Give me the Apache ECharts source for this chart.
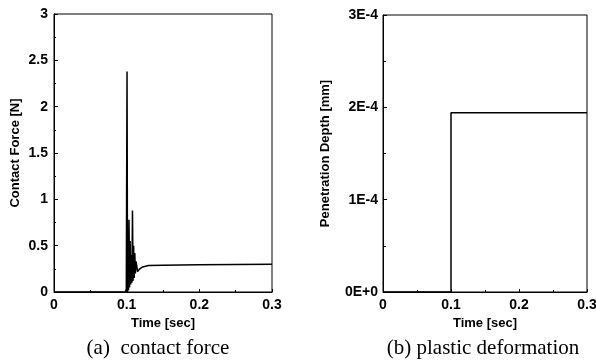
<!DOCTYPE html>
<html>
<head>
<meta charset="utf-8">
<script src="https://cdn.jsdelivr.net/npm/echarts@6/dist/echarts.min.js"></script>
<style>
  html, body { margin: 0; padding: 0; background: #fff; }
  #chart { width: 596px; height: 361px; }
</style>
</head>
<body>
<div id="chart"></div>
<script>
// (a) contact force
var forceTime = [0, 0.05, 0.098, 0.0995, 0.1005, 0.1012, 0.1018, 0.1025, 0.1032, 0.104, 0.1048, 0.1056, 0.1064,
  0.1072, 0.108, 0.1088, 0.1096, 0.1104, 0.1112, 0.112, 0.113, 0.115, 0.118, 0.122, 0.13, 0.15, 0.2, 0.3];
var forceValue = [0, 0, 0, 0.03, 2.38, 0.0, 0.6, 0.02, 0.78, 0.05, 0.55, 0.08, 0.4, 0.1,
  0.88, 0.12, 0.5, 0.15, 0.42, 0.2, 0.33, 0.22, 0.25, 0.27, 0.285, 0.29, 0.295, 0.3];

// (b) plastic deformation
var depthTime = [0, 0.1, 0.1, 0.3];
var depthValue = [0, 0, 1.94e-4, 1.94e-4];

var timeTicks = ['0', '0.1', '0.2', '0.3'];
var forceTicks = ['0', '0.5', '1', '1.5', '2', '2.5', '3'];
var depthTicks = ['0E+0', '1E-4', '2E-4', '3E-4'];

var tickFont = { color: '#000', fontFamily: 'Liberation Sans', fontWeight: 'bold', fontSize: 14 };
var nameFont = { color: '#000', fontFamily: 'Liberation Sans', fontWeight: 'bold', fontSize: 13 };

function pairs(xs, ys) {
  return xs.map(function (x, i) { return [x, ys[i]]; });
}

function xAxisFor(gridIndex) {
  return {
    type: 'value', gridIndex: gridIndex, min: 0, max: 0.3, interval: 0.1,
    name: 'Time [sec]', nameLocation: 'middle', nameGap: 25, nameTextStyle: nameFont,
    axisLine: { lineStyle: { color: '#000', width: 1 } },
    axisTick: { inside: true, length: 3, lineStyle: { color: '#000' } },
    minorTick: { show: true, splitNumber: 2, length: 2, lineStyle: { color: '#000' } },
    splitLine: { show: false },
    axisLabel: Object.assign({ margin: 6, formatter: function (v) { return timeTicks[Math.round(v * 10)]; } }, tickFont)
  };
}

var chart = echarts.init(document.getElementById('chart'));
chart.setOption({
  animation: false,
  backgroundColor: '#fff',
  grid: [
    { left: 54, top: 14, width: 218, height: 278, outerBoundsMode: 'none', show: true, borderColor: '#000', borderWidth: 1 },
    { left: 383, top: 15, width: 204, height: 277, outerBoundsMode: 'none', show: true, borderColor: '#000', borderWidth: 1 }
  ],
  xAxis: [xAxisFor(0), xAxisFor(1)],
  yAxis: [
    {
      type: 'value', gridIndex: 0, min: 0, max: 3, interval: 0.5,
      name: 'Contact Force [N]', nameLocation: 'middle', nameGap: 32, nameTextStyle: nameFont,
      axisLine: { show: true, lineStyle: { color: '#000', width: 1 } },
      axisTick: { show: true, inside: true, length: 4, lineStyle: { color: '#000' } },
      minorTick: { show: true, splitNumber: 2, length: 2, lineStyle: { color: '#000' } },
      splitLine: { show: false },
      axisLabel: Object.assign({ margin: 6, formatter: function (v) { return forceTicks[Math.round(v * 2)]; } }, tickFont)
    },
    {
      type: 'value', gridIndex: 1, min: 0, max: 3e-4, interval: 1e-4,
      name: 'Penetration Depth [mm]', nameLocation: 'middle', nameGap: 51, nameTextStyle: nameFont,
      axisLine: { show: true, lineStyle: { color: '#000', width: 1 } },
      axisTick: { show: true, inside: true, length: 4, lineStyle: { color: '#000' } },
      minorTick: { show: true, splitNumber: 2, length: 3, lineStyle: { color: '#000' } },
      splitLine: { show: false },
      axisLabel: Object.assign({ margin: 5, formatter: function (v) { return depthTicks[Math.round(v / 1e-4)]; } }, tickFont)
    }
  ],
  series: [
    {
      type: 'line', xAxisIndex: 0, yAxisIndex: 0, showSymbol: false,
      lineStyle: { color: '#000', width: 1.5 }, data: pairs(forceTime, forceValue)
    },
    {
      type: 'line', xAxisIndex: 1, yAxisIndex: 1, showSymbol: false,
      lineStyle: { color: '#000', width: 1.5 }, data: pairs(depthTime, depthValue)
    }
  ],
  graphic: [
    { type: 'text', x: 158, y: 348, style: { text: '(a)  contact force', fill: '#000', font: '21px "Liberation Serif"', align: 'center', verticalAlign: 'middle' } },
    { type: 'text', x: 483, y: 348, style: { text: '(b) plastic deformation', fill: '#000', font: '21px "Liberation Serif"', align: 'center', verticalAlign: 'middle' } }
  ]
});
</script>
</body>
</html>
